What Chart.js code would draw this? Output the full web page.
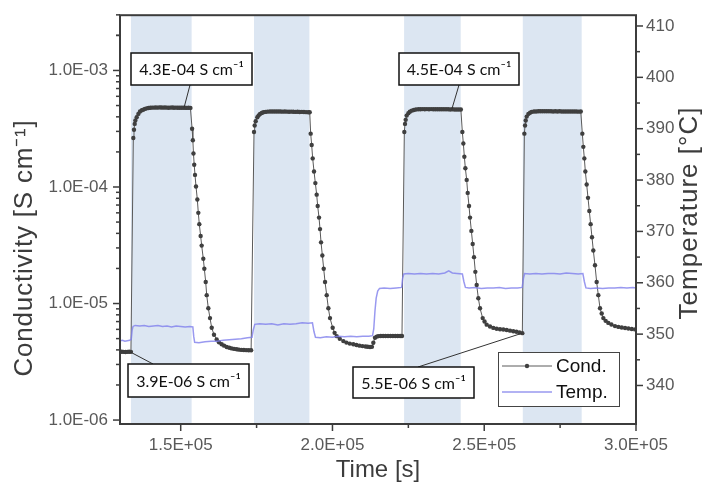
<!DOCTYPE html>
<html>
<head>
<meta charset="utf-8">
<script src="https://cdn.jsdelivr.net/npm/chart.js@4.4.0/dist/chart.umd.min.js"></script>
<style>
  html, body { margin: 0; padding: 0; background: #fff; }
</style>
</head>
<body>
<canvas id="chart" width="717" height="491"></canvas>
<script>
// ---- data (time in ks) ----
const condTime = [
  130.0, 130.6, 131.2, 131.8, 132.4, 133.0, 133.6,
  134.39, 134.61, 134.84, 135.06, 135.5, 136.05, 136.59, 137.2, 137.68, 138.2, 138.79, 139.4, 140.0, 140.6,
  141.2, 141.8, 142.4, 143.0, 143.6, 144.2, 144.8, 145.4, 146.0, 146.6, 147.2, 147.8, 148.4, 149.0, 149.6, 150.2, 150.8, 151.4, 152.0, 152.6, 153.2,
  153.75, 154.0, 154.2, 154.45, 154.71, 155.04, 155.48, 155.8, 156.13, 156.57, 156.91, 157.45, 157.78, 158.24, 158.57, 159.1, 159.65, 160.21, 160.97, 161.85,
  162.6, 163.5, 164.3, 165.15, 166.0, 166.8, 167.6, 168.44, 169.2, 170.0, 170.8, 171.6, 172.4, 173.2,
  174.15, 174.37, 174.7, 175.25, 175.7, 176.13, 176.7, 177.23, 177.9, 178.6, 179.4,
  180.1, 180.8, 181.5, 182.2, 182.9, 183.6, 184.3, 185.0, 185.7, 186.4, 187.1, 187.8, 188.5, 189.2, 189.9, 190.6, 191.3, 192.0, 192.5,
  192.82, 193.15, 193.48, 193.92, 194.36, 194.8, 195.13, 195.57, 195.9, 196.23, 196.67, 197.11, 197.55, 198.1, 198.65, 199.19, 200.07,
  200.7, 201.39, 202.4, 203.58, 204.6, 205.7, 206.87, 207.9, 208.9, 209.9, 210.9, 211.6, 212.36, 213.0,
  213.46, 214.01, 214.6, 215.11, 215.9, 216.7, 217.5, 218.3, 219.1, 219.9, 220.7, 221.5, 222.3, 222.9,
  223.67, 223.9, 224.12, 224.45, 225.0, 225.5, 226.1, 226.8, 227.5, 228.3,
  229.0, 229.7, 230.4, 231.1, 231.8, 232.5, 233.2, 233.9, 234.6, 235.3, 236.0, 236.7, 237.4, 238.1, 238.8, 239.5, 240.2, 240.9, 241.6, 242.3,
  242.79, 243.12, 243.45, 243.78, 244.22, 244.55, 244.99, 245.32, 245.76, 246.2, 246.63, 247.07, 247.51, 248.06, 248.61, 249.49,
  250.1, 250.8, 251.9, 253.0, 254.1, 255.2, 256.29, 257.4, 258.5, 259.58, 260.6, 261.6, 262.55,
  263.22, 263.44, 263.66, 263.99, 264.54, 265.1, 265.64, 266.4, 267.1, 267.83,
  268.5, 269.2, 269.9, 270.6, 271.3, 272.0, 272.7, 273.4, 274.1, 274.8, 275.5, 276.2, 276.9, 277.6, 278.3, 279.0, 279.7, 280.4, 281.1, 281.8,
  282.32, 282.65, 282.98, 283.31, 283.75, 284.19, 284.62, 285.06, 285.5, 285.94, 286.49, 287.04, 287.59, 288.14, 288.7, 289.24,
  290.0, 290.88, 291.9, 293.08, 294.2, 295.3, 296.4, 297.5, 298.6, 299.7
];
const condValue = [
  3.85e-6, 3.86e-6, 3.85e-6, 3.84e-6, 3.85e-6, 3.86e-6, 3.85e-6,
  2.63e-4, 3.10e-4, 3.48e-4, 3.72e-4, 3.97e-4, 4.24e-4, 4.44e-4, 4.55e-4, 4.61e-4, 4.68e-4, 4.73e-4, 4.76e-4, 4.78e-4, 4.80e-4,
  4.80e-4, 4.81e-4, 4.80e-4, 4.82e-4, 4.81e-4, 4.80e-4, 4.81e-4, 4.80e-4, 4.79e-4, 4.80e-4, 4.81e-4, 4.79e-4, 4.80e-4, 4.79e-4, 4.78e-4, 4.79e-4, 4.78e-4, 4.79e-4, 4.77e-4, 4.78e-4, 4.77e-4,
  3.16e-4, 2.52e-4, 1.94e-4, 1.55e-4, 1.27e-4, 1.01e-4, 7.8e-5, 6.0e-5, 4.8e-5, 3.8e-5, 3.14e-5, 2.42e-5, 1.99e-5, 1.53e-5, 1.18e-5, 9.1e-6, 7.5e-6, 6.2e-6, 5.4e-6, 4.92e-6,
  4.65e-6, 4.47e-6, 4.35e-6, 4.24e-6, 4.17e-6, 4.12e-6, 4.08e-6, 4.05e-6, 4.02e-6, 4.0e-6, 3.99e-6, 3.98e-6, 3.97e-6, 3.97e-6,
  2.96e-4, 3.37e-4, 3.67e-4, 3.97e-4, 4.12e-4, 4.24e-4, 4.32e-4, 4.38e-4, 4.41e-4, 4.43e-4, 4.44e-4,
  4.44e-4, 4.45e-4, 4.44e-4, 4.45e-4, 4.44e-4, 4.43e-4, 4.44e-4, 4.43e-4, 4.42e-4, 4.43e-4, 4.42e-4, 4.41e-4, 4.42e-4, 4.40e-4, 4.41e-4, 4.40e-4, 4.39e-4, 4.38e-4, 4.38e-4,
  2.87e-4, 2.29e-4, 1.76e-4, 1.36e-4, 1.08e-4, 8.6e-5, 6.86e-5, 5.46e-5, 4.35e-5, 3.35e-5, 2.58e-5, 1.99e-5, 1.53e-5, 1.18e-5, 9.1e-6, 7.5e-6, 6.2e-6,
  5.6e-6, 5.25e-6, 4.98e-6, 4.76e-6, 4.62e-6, 4.53e-6, 4.47e-6, 4.4e-6, 4.35e-6, 4.31e-6, 4.28e-6, 4.26e-6, 4.24e-6, 4.25e-6,
  4.61e-6, 5.08e-6, 5.2e-6, 5.25e-6, 5.26e-6, 5.27e-6, 5.26e-6, 5.27e-6, 5.27e-6, 5.26e-6, 5.27e-6, 5.27e-6, 5.26e-6, 5.27e-6,
  2.96e-4, 3.48e-4, 3.77e-4, 4.1e-4, 4.3e-4, 4.43e-4, 4.52e-4, 4.58e-4, 4.62e-4, 4.65e-4,
  4.65e-4, 4.66e-4, 4.65e-4, 4.66e-4, 4.65e-4, 4.66e-4, 4.65e-4, 4.64e-4, 4.65e-4, 4.64e-4, 4.65e-4, 4.64e-4, 4.64e-4, 4.65e-4, 4.63e-4, 4.64e-4, 4.63e-4, 4.63e-4, 4.62e-4, 4.62e-4,
  2.96e-4, 2.36e-4, 1.82e-4, 1.45e-4, 1.15e-4, 8.9e-5, 6.86e-5, 5.46e-5, 4.2e-5, 3.24e-5, 2.5e-5, 1.87e-5, 1.44e-5, 1.11e-5, 9.1e-6, 7.5e-6,
  7.0e-6, 6.59e-6, 6.35e-6, 6.18e-6, 6.08e-6, 6.02e-6, 5.98e-6, 5.92e-6, 5.85e-6, 5.79e-6, 5.72e-6, 5.64e-6, 5.57e-6,
  2.87e-4, 3.37e-4, 3.72e-4, 4.02e-4, 4.24e-4, 4.34e-4, 4.41e-4, 4.44e-4, 4.45e-4, 4.46e-4,
  4.46e-4, 4.47e-4, 4.46e-4, 4.46e-4, 4.47e-4, 4.46e-4, 4.45e-4, 4.46e-4, 4.45e-4, 4.46e-4, 4.45e-4, 4.45e-4, 4.44e-4, 4.45e-4, 4.44e-4, 4.45e-4, 4.44e-4, 4.44e-4, 4.43e-4, 4.44e-4,
  2.87e-4, 2.21e-4, 1.76e-4, 1.36e-4, 1.05e-4, 8.07e-5, 6.22e-5, 4.8e-5, 3.7e-5, 2.85e-5, 2.13e-5, 1.53e-5, 1.18e-5, 9.1e-6, 8.2e-6, 7.5e-6,
  7.1e-6, 6.82e-6, 6.6e-6, 6.4e-6, 6.3e-6, 6.22e-6, 6.16e-6, 6.1e-6, 6.05e-6, 6.0e-6
];

const tempTime = [
  130.0, 130.8, 131.6, 132.4, 133.2, 133.7, 134.0, 134.3, 135.0, 136.5, 138.0, 139.5, 141.0, 142.5, 144.0, 145.5, 147.0, 148.5, 150.0, 151.5, 153.0, 154.0,
  154.3, 154.6, 156.0, 158.0, 160.0, 162.0, 164.0, 166.0, 168.0, 170.0, 172.0, 173.5,
  173.9, 174.4, 176.0, 178.0, 180.0, 182.0, 184.0, 186.0, 188.0, 190.0, 192.0, 193.4,
  193.9, 194.4, 196.0, 198.0, 200.0, 202.0, 204.0, 206.0, 208.0, 210.0, 212.0, 213.2,
  213.6, 214.0, 214.4, 214.9, 215.5, 217.0, 219.0, 221.0, 222.8,
  223.1, 223.5, 225.0, 227.0, 229.0, 231.0, 233.0, 235.0, 237.0, 238.3, 239.5, 241.0, 242.8,
  243.3, 243.8, 245.0, 247.0, 249.0, 251.0, 253.0, 255.0, 257.0, 259.0, 261.0, 262.5,
  262.9, 263.3, 265.0, 267.0, 269.0, 271.0, 273.0, 275.0, 277.0, 279.0, 281.0, 282.5,
  283.0, 283.5, 285.0, 287.0, 289.0, 291.0, 293.0, 295.0, 297.0, 299.0, 300.0
];
const tempValue = [
  348.7, 348.8, 348.6, 348.7, 348.8, 349.0, 350.8, 351.5, 351.7, 351.6, 351.7, 351.5, 351.6, 351.7, 351.5, 351.6, 351.4, 351.6, 351.5, 351.4, 351.5, 351.4,
  349.5, 348.4, 348.3, 348.5, 348.6, 348.6, 348.8, 348.9, 349.0, 349.1, 349.3, 349.4,
  350.8, 351.9, 352.0, 351.9, 352.0, 351.8, 352.0, 351.9, 352.0, 352.2, 352.1, 352.2,
  350.5, 349.4, 349.3, 349.5, 349.4, 349.6, 349.5, 349.6, 349.5, 349.6, 349.6, 349.7,
  351.0, 354.5, 357.0, 358.4, 358.9, 359.0, 358.9, 359.0, 359.1,
  360.8, 361.7, 361.8, 361.7, 361.8, 361.7, 361.8, 361.7, 361.9, 362.3, 361.9, 361.8, 361.7,
  360.2, 359.1, 359.0, 359.1, 358.9, 359.0, 359.0, 359.1, 358.9, 359.0, 359.0, 359.1,
  360.8, 361.8, 361.7, 361.8, 361.7, 361.8, 361.8, 361.7, 361.9, 361.8, 361.7, 361.8,
  360.2, 359.0, 358.9, 359.0, 358.9, 359.0, 359.0, 359.1, 359.0, 359.1, 359.0
];

// heating periods (ks)
const heatStart = [133.6, 174.15, 223.6, 262.7];
const heatEnd = [153.6, 192.4, 242.25, 282.1];

// axis ticks
const timeTicks = [150000, 175000, 200000, 225000, 250000, 275000, 300000];
const timeLabels = [150000, 200000, 250000, 300000];
const condDecades = [1e-6, 1e-5, 1e-4, 1e-3];
const tempTicks = [340, 345, 350, 355, 360, 365, 370, 375, 380, 385, 390, 395, 400, 405, 410];
const tempLabels = [340, 350, 360, 370, 380, 390, 400, 410];

// annotated values
const noteText = ['4.3E-04 S cm\u207B\u00B9', '4.5E-04 S cm\u207B\u00B9', '3.9E-06 S cm\u207B\u00B9', '5.5E-06 S cm\u207B\u00B9'];
const noteTime = [151.1, 239.3, 133.3, 262.55];
const noteValue = [4.79e-4, 4.63e-4, 3.85e-6, 5.57e-6];

// ---- layout / style ----
const FONT = '"Liberation Sans", Arial, sans-serif';
const AXIS = '#3c3c3c';
const LABEL = '#595959';
const COND_COLOR = '#3f3f3f';
const TEMP_COLOR = 'rgba(128,128,236,0.8)';
const noteBoxes = [
  { left: 131, top: 53, w: 121, h: 32, ax: 190, ay: 85 },
  { left: 399, top: 53, w: 120, h: 32, ax: 459, ay: 85 },
  { left: 128, top: 364, w: 121, h: 33, ax: 153, ay: 364 },
  { left: 353, top: 367, w: 121, h: 31, ax: 418, ay: 367 }
];

function sci(v) {
  const parts = v.toExponential(1).split('e');
  const n = parseInt(parts[1], 10);
  return parts[0] + 'E' + (n < 0 ? '-' : '+') + String(Math.abs(n)).padStart(2, '0');
}

const condMinor = [];
condDecades.forEach(d => { for (let m = 1; m <= 9; m++) condMinor.push(d * m); });
condMinor.push(2e-3);

const condPoints = condTime.map((t, i) => ({ x: t * 1000, y: condValue[i] }));
const tempPoints = tempTime.map((t, i) => ({ x: t * 1000, y: tempValue[i] }));

// shaded heating bands
const bandsPlugin = {
  id: 'bands',
  beforeDatasetsDraw(chart) {
    const { ctx, chartArea, scales } = chart;
    ctx.save();
    ctx.fillStyle = '#dce6f2';
    heatStart.forEach((s, i) => {
      const x0 = scales.x.getPixelForValue(s * 1000);
      const x1 = scales.x.getPixelForValue(heatEnd[i] * 1000);
      ctx.fillRect(x0, chartArea.top, x1 - x0, chartArea.bottom - chartArea.top);
    });
    ctx.restore();
  }
};

function drawTitle(ctx, text, x, y, rot, size, spacing) {
  ctx.save();
  ctx.translate(x, y);
  ctx.rotate(rot);
  ctx.fillStyle = AXIS;
  ctx.font = size + 'px ' + FONT;
  ctx.letterSpacing = spacing + 'px';
  ctx.textAlign = 'center';
  ctx.textBaseline = 'middle';
  ctx.fillText(text, 0, 0);
  ctx.restore();
}

// frame, tick marks, callouts, legend, titles
const decorPlugin = {
  id: 'decor',
  afterDraw(chart) {
    const { ctx, chartArea: a, scales } = chart;
    ctx.save();

    // callouts
    ctx.font = '16px Lato, "Open Sans", sans-serif';
    ctx.textBaseline = 'middle';
    ctx.textAlign = 'center';
    noteText.forEach((txt, i) => {
      const b = noteBoxes[i];
      const px = scales.x.getPixelForValue(noteTime[i] * 1000);
      const py = scales.y.getPixelForValue(noteValue[i]);
      ctx.strokeStyle = '#333';
      ctx.lineWidth = 1;
      ctx.beginPath();
      ctx.moveTo(px, py);
      ctx.lineTo(b.ax, b.ay);
      ctx.stroke();
      ctx.fillStyle = '#fff';
      ctx.fillRect(b.left, b.top, b.w, b.h);
      ctx.strokeStyle = '#111';
      ctx.lineWidth = 1.5;
      ctx.strokeRect(b.left, b.top, b.w, b.h);
      ctx.fillStyle = '#111';
      ctx.fillText(txt, b.left + b.w / 2, b.top + b.h / 2 + 1);
    });

    // legend
    const lx = 498, ly = 352, lw = 121, lh = 54;
    ctx.fillStyle = '#fff';
    ctx.fillRect(lx, ly, lw, lh);
    ctx.strokeStyle = '#444';
    ctx.lineWidth = 1;
    ctx.strokeRect(lx + 0.5, ly + 0.5, lw, lh);
    const rows = [ly + 14, ly + 40];
    chart.data.datasets.forEach((d, i) => {
      const y = rows[i];
      ctx.strokeStyle = d.borderColor;
      ctx.lineWidth = d.borderWidth;
      ctx.beginPath();
      ctx.moveTo(lx + 4, y);
      ctx.lineTo(lx + 54, y);
      ctx.stroke();
      if (d.pointRadius > 0) {
        ctx.fillStyle = d.pointBackgroundColor;
        ctx.beginPath();
        ctx.arc(lx + 29, y, d.pointRadius, 0, Math.PI * 2);
        ctx.fill();
      }
      ctx.fillStyle = '#111';
      ctx.font = '19px ' + FONT;
      ctx.textAlign = 'left';
      ctx.fillText(d.label, lx + 58, y + 1);
    });

    // frame
    ctx.strokeStyle = AXIS;
    ctx.lineWidth = 2;
    ctx.strokeRect(a.left, a.top, a.right - a.left, a.bottom - a.top);

    // tick marks
    ctx.lineWidth = 1.5;
    const major = 7, minor = 4;
    scales.x.ticks.forEach(t => {
      const p = scales.x.getPixelForValue(t.value);
      const len = t.label ? major : minor;
      ctx.beginPath(); ctx.moveTo(p, a.bottom); ctx.lineTo(p, a.bottom + len); ctx.stroke();
    });
    scales.y.ticks.forEach(t => {
      const p = scales.y.getPixelForValue(t.value);
      if (p < a.top - 0.5 || p > a.bottom + 0.5) return;
      const len = t.label ? major : minor;
      ctx.beginPath(); ctx.moveTo(a.left - len, p); ctx.lineTo(a.left, p); ctx.stroke();
    });
    scales.y2.ticks.forEach(t => {
      const p = scales.y2.getPixelForValue(t.value);
      const len = t.label ? major : minor;
      ctx.beginPath(); ctx.moveTo(a.right, p); ctx.lineTo(a.right + len, p); ctx.stroke();
    });
    ctx.restore();

    // axis titles
    drawTitle(ctx, 'Conductivity [S cm\u207B\u00B9]', 25, 248, -Math.PI / 2, 26, 0.8);
    drawTitle(ctx, 'Temperature [\u00B0C]', 690, 213, -Math.PI / 2, 26, 1);
    drawTitle(ctx, 'Time [s]', (a.left + a.right) / 2, 470, 0, 24, 0);
  }
};

const tickFont = { family: FONT, size: 17 };

new Chart(document.getElementById('chart'), {
  type: 'line',
  data: {
    datasets: [
      {
        label: 'Cond.',
        data: condPoints,
        yAxisID: 'y',
        borderColor: '#5a5a5a',
        borderWidth: 1,
        pointRadius: 2.2,
        pointBackgroundColor: COND_COLOR,
        pointBorderWidth: 0,
        order: 2
      },
      {
        label: 'Temp.',
        data: tempPoints,
        yAxisID: 'y2',
        borderColor: TEMP_COLOR,
        borderWidth: 1.5,
        pointRadius: 0,
        order: 1
      }
    ]
  },
  options: {
    responsive: false,
    animation: false,
    layout: { padding: { top: 10, left: 0, right: 0, bottom: 0 } },
    plugins: { legend: { display: false }, tooltip: { enabled: false } },
    scales: {
      x: {
        type: 'linear',
        min: 130000,
        max: 300000,
        afterFit: s => { s.height = 67; },
        afterBuildTicks: s => { s.ticks = timeTicks.map(v => ({ value: v })); },
        ticks: {
          autoSkip: false, maxRotation: 0, padding: 4,
          font: tickFont, color: LABEL,
          callback: v => timeLabels.includes(v) ? sci(v) : ''
        },
        grid: { display: false, drawTicks: true, tickLength: 7 },
        border: { display: false }
      },
      y: {
        type: 'logarithmic',
        position: 'left',
        min: 9.25e-7,
        max: 2.98e-3,
        afterFit: s => { s.width = 120; },
        afterBuildTicks: s => { s.ticks = condMinor.map(v => ({ value: v })); },
        ticks: {
          autoSkip: false, padding: 5,
          font: tickFont, color: LABEL,
          callback: v => condDecades.some(d => Math.abs(d - v) / d < 1e-6) ? sci(v) : ''
        },
        grid: { display: false, drawTicks: true, tickLength: 7 },
        border: { display: false }
      },
      y2: {
        type: 'linear',
        position: 'right',
        min: 332.5,
        max: 412.1,
        afterFit: s => { s.width = 81; },
        afterBuildTicks: s => { s.ticks = tempTicks.map(v => ({ value: v })); },
        ticks: {
          autoSkip: false, padding: 3,
          font: tickFont, color: LABEL,
          callback: v => tempLabels.includes(v) ? String(v) : ''
        },
        grid: { display: false, drawTicks: true, tickLength: 7 },
        border: { display: false }
      }
    }
  },
  plugins: [bandsPlugin, decorPlugin]
});
</script>
</body>
</html>
